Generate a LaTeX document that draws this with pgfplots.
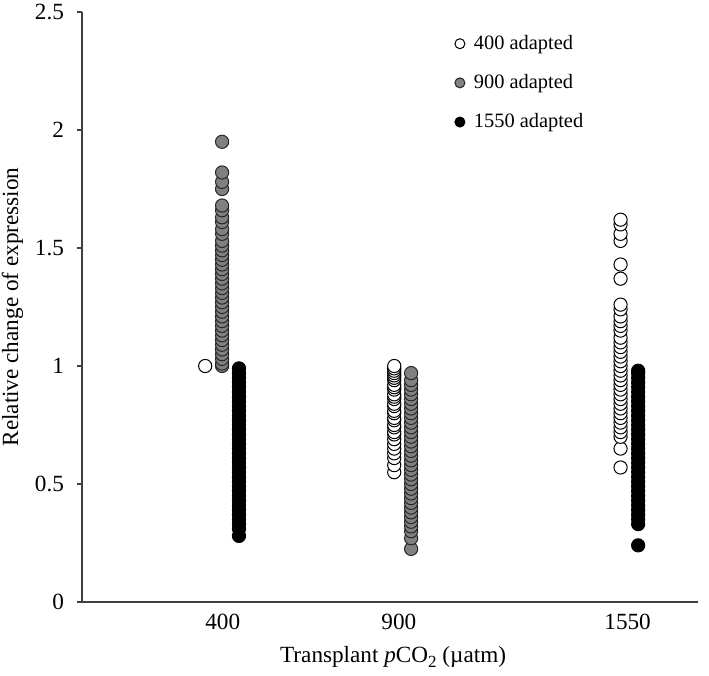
\documentclass[border=0pt]{standalone}
\usepackage{fontspec}
\setmainfont{Liberation Serif}
\usepackage{pgfplots}
\pgfplotsset{compat=1.18}

\begin{document}
\begin{tikzpicture}
\begin{axis}[
  width=308pt, height=295pt, scale only axis,
  font=\fontsize{11.6}{13}\selectfont,
  xmin=0, xmax=1750, ymin=0, ymax=2.5,
  axis x line*=bottom, axis y line*=left,
  axis line style={black!75, line width=0.7pt},
  xtick={400,900,1550}, xticklabels={400,900,1550},
  x tick style={draw=none},
  ytick={0,0.5,1,1.5,2,2.5}, yticklabels={0,0.5,1,1.5,2,2.5},
  y tick style={black!75, line width=0.7pt},
  yticklabel style={xshift=-3pt},
  tick align=outside, major tick length=2.5pt,
  xlabel={Transplant \textit{p}CO\raisebox{-0.45ex}{\fontsize{8.5}{9}\selectfont 2} (µatm)},
  ylabel={Relative change of expression},
  xlabel style={at={(axis description cs:0.505,-0.093)}, anchor=center},
  ylabel style={at={(axis description cs:-0.113,0.5)}, anchor=center},
  legend style={draw=none, fill=none, at={(0.595,0.975)}, anchor=north west,
    row sep=7pt, font=\fontsize{10.2}{12}\selectfont,
    /tikz/every odd column/.append style={column sep=2.5pt}},
  legend cell align=left,
  legend image code/.code={\draw[mark size=2.5pt] plot coordinates {(0cm,0cm)};},
  clip=false,
]
% 400 adapted (open)
\addplot[only marks, mark=*, mark size=3.3pt, mark options={fill=white, draw=black, line width=0.5pt}] coordinates {
(350,1.00)
(887,0.55)(887,0.58)(887,0.61)(887,0.63)(887,0.65)(887,0.67)(887,0.69)(887,0.71)(887,0.72)(887,0.74)
(887,0.75)(887,0.77)(887,0.78)(887,0.80)(887,0.81)(887,0.83)(887,0.84)(887,0.86)(887,0.87)(887,0.88)
(887,0.90)(887,0.91)(887,0.92)(887,0.94)(887,0.95)(887,0.96)(887,0.97)(887,0.98)(887,0.99)(887,1.00)
(1530,0.57)(1530,0.65)(1530,0.70)(1530,0.72)(1530,0.74)(1530,0.76)(1530,0.78)(1530,0.80)(1530,0.82)
(1530,0.84)(1530,0.86)(1530,0.88)(1530,0.90)(1530,0.92)(1530,0.94)(1530,0.96)(1530,0.98)(1530,1.00)
(1530,1.02)(1530,1.04)(1530,1.06)(1530,1.08)(1530,1.10)(1530,1.12)(1530,1.15)(1530,1.17)(1530,1.19)
(1530,1.21)(1530,1.24)(1530,1.26)(1530,1.37)(1530,1.43)(1530,1.53)(1530,1.56)(1530,1.60)(1530,1.62)
};
% 900 adapted (grey)
\addplot[only marks, mark=*, mark size=3.3pt, mark options={fill=black!50, draw=black!85, line width=0.5pt}] coordinates {
(398,1.00)(398,1.01)(398,1.03)(398,1.05)(398,1.07)(398,1.09)(398,1.11)(398,1.13)(398,1.15)(398,1.17)
(398,1.19)(398,1.21)(398,1.23)(398,1.25)(398,1.27)(398,1.29)(398,1.31)(398,1.33)(398,1.35)(398,1.37)
(398,1.39)(398,1.41)(398,1.43)(398,1.45)(398,1.47)(398,1.49)(398,1.51)(398,1.53)(398,1.56)(398,1.58)
(398,1.61)(398,1.63)(398,1.66)(398,1.68)(398,1.75)(398,1.78)(398,1.82)(398,1.95)
(935,0.225)(935,0.27)(935,0.30)(935,0.32)(935,0.34)(935,0.36)(935,0.38)(935,0.40)(935,0.42)(935,0.44)
(935,0.46)(935,0.48)(935,0.50)(935,0.52)(935,0.54)(935,0.56)(935,0.58)(935,0.60)(935,0.62)(935,0.64)
(935,0.66)(935,0.68)(935,0.70)(935,0.72)(935,0.74)(935,0.76)(935,0.78)(935,0.80)(935,0.82)(935,0.84)
(935,0.86)(935,0.88)(935,0.90)(935,0.92)(935,0.94)(935,0.97)
};
% 1550 adapted (black)
\addplot[only marks, mark=*, mark size=3.3pt, mark options={fill=black, draw=black, line width=0.5pt}] coordinates {
(446,0.28)(446,0.31)(446,0.33)(446,0.35)(446,0.37)(446,0.39)(446,0.41)(446,0.43)(446,0.45)(446,0.47)
(446,0.49)(446,0.51)(446,0.53)(446,0.55)(446,0.57)(446,0.59)(446,0.61)(446,0.63)(446,0.65)(446,0.67)
(446,0.69)(446,0.71)(446,0.73)(446,0.75)(446,0.77)(446,0.79)(446,0.81)(446,0.83)(446,0.85)(446,0.87)
(446,0.89)(446,0.91)(446,0.93)(446,0.95)(446,0.97)(446,0.99)
(1580,0.24)(1580,0.33)(1580,0.35)(1580,0.37)(1580,0.39)(1580,0.41)(1580,0.43)(1580,0.45)(1580,0.47)
(1580,0.49)(1580,0.51)(1580,0.53)(1580,0.55)(1580,0.57)(1580,0.59)(1580,0.61)(1580,0.63)(1580,0.65)
(1580,0.67)(1580,0.69)(1580,0.71)(1580,0.73)(1580,0.75)(1580,0.77)(1580,0.79)(1580,0.81)(1580,0.83)
(1580,0.85)(1580,0.87)(1580,0.89)(1580,0.91)(1580,0.93)(1580,0.95)(1580,0.97)(1580,0.98)
};
\legend{400 adapted, 900 adapted, 1550 adapted}
\end{axis}
\pgfresetboundingbox
\path ([xshift=-41pt,yshift=-37pt]current axis.south west)
  rectangle ([xshift=5.5pt,yshift=6pt]current axis.north east);
\end{tikzpicture}
\end{document}
